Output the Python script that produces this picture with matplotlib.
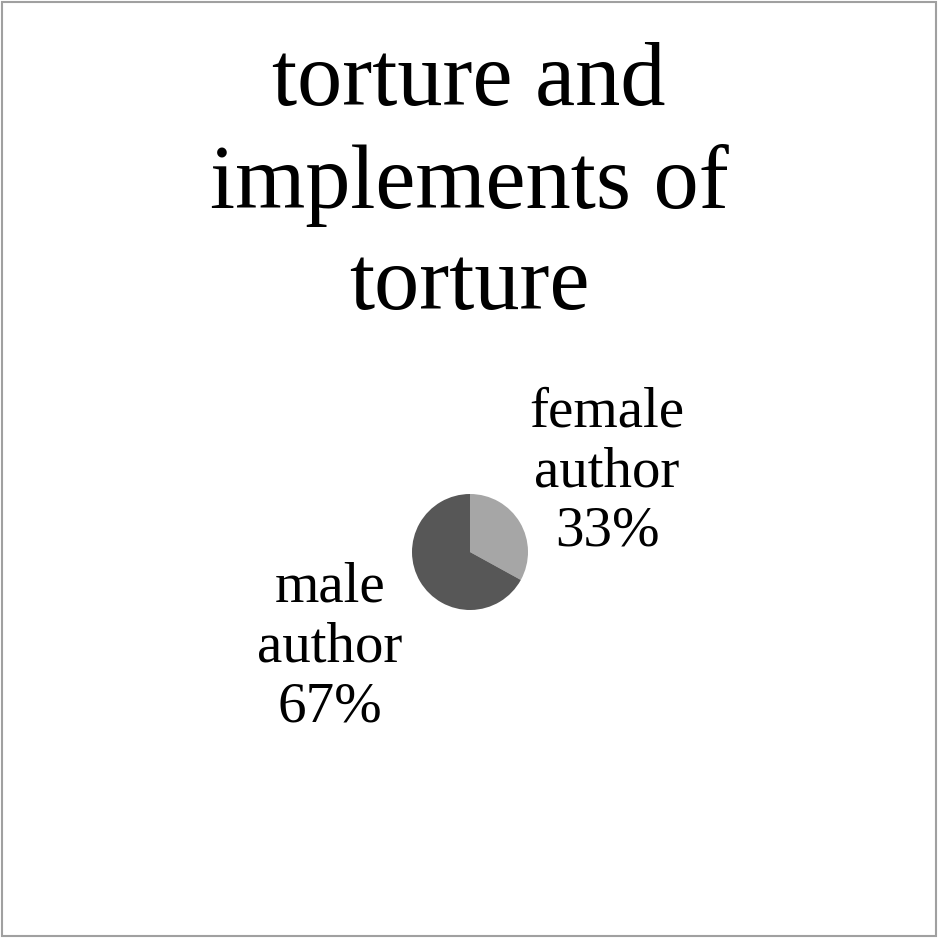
import matplotlib.pyplot as plt
from matplotlib.patches import Rectangle

labels = ['female\nauthor\n33%', 'male\nauthor\n67%']
shares = [33, 67]
colors = ['#a6a6a6', '#575757']
title = 'torture and\nimplements of\ntorture'

plt.rcParams['font.family'] = ['Liberation Serif', 'DejaVu Serif']

fig = plt.figure(figsize=(9.38, 9.38), dpi=100)
fig.patches.append(Rectangle((0.002, 0.002), 0.996, 0.996, transform=fig.transFigure,
                             fill=False, edgecolor='#a0a0a0', linewidth=1.5))

fig.text(0.5, 1 - 185 / 938, title, ha='center', va='center', fontsize=65, linespacing=1.3)

# pie centre ~ (470, 552) px, radius ~58 px
r = 58 / 938
ax = fig.add_axes([470 / 938 - r, 1 - 552 / 938 - r, 2 * r, 2 * r])
ax.pie(shares, colors=colors, startangle=90, counterclock=False,
       wedgeprops={'linewidth': 0})
ax.set_xlim(-1, 1)
ax.set_ylim(-1, 1)
ax.set_aspect('equal')

fig.text(607 / 938, 1 - 472 / 938, labels[0], ha='center', va='center', fontsize=41, linespacing=1.2)
fig.text(330 / 938, 1 - 648 / 938, labels[1], ha='center', va='center', fontsize=41, linespacing=1.2)

fig.savefig('out.png', dpi=100)
